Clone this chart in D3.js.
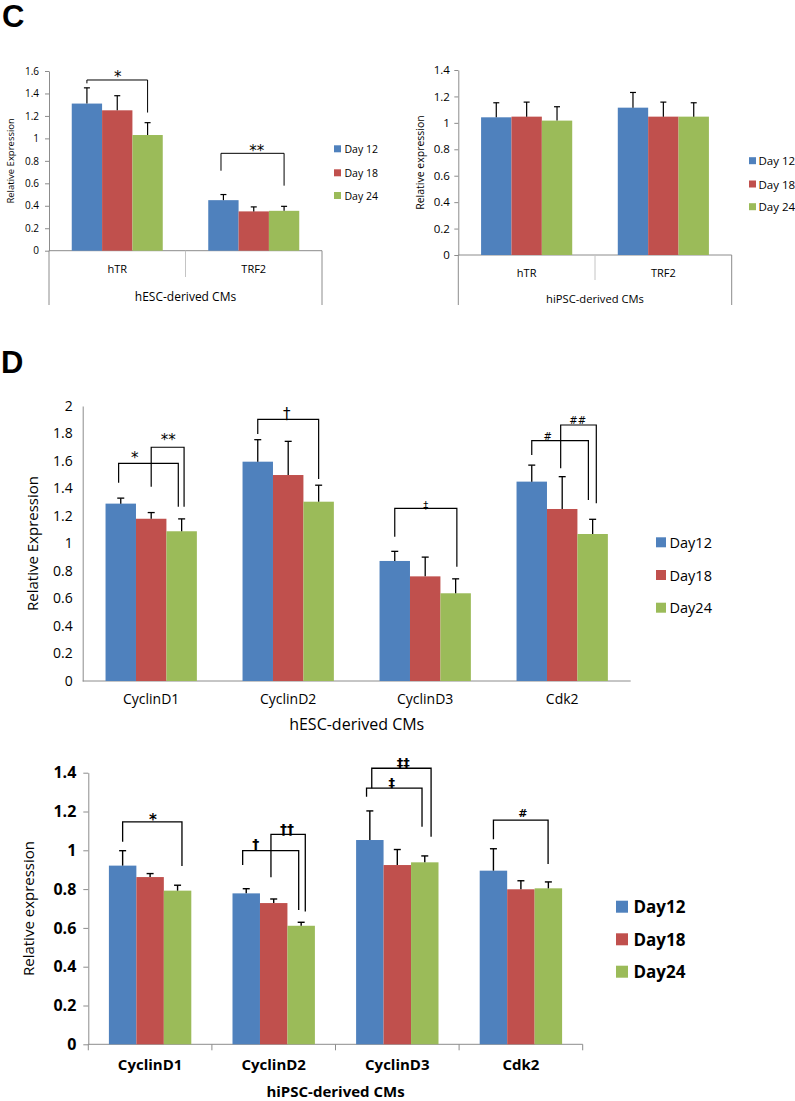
<!DOCTYPE html>
<html><head><meta charset="utf-8">
<script src="https://cdn.jsdelivr.net/npm/d3@7"></script>
<style>
body{margin:0;background:#fff}
svg{display:block}
text{font-family:"Open Sans","DejaVu Sans",sans-serif;fill:#000}
</style>
</head><body>
<svg id="chart" width="795" height="1101"></svg>
<script>
// ---------------- DATA ----------------
const seriesC = ["Day 12", "Day 18", "Day 24"];
const seriesD = ["Day12", "Day18", "Day24"];
const seriesColors = ["#4F81BD", "#C0504D", "#9BBB59"];

// Panel C (left): hESC-derived CMs
const cLeftCategories = ["hTR", "TRF2"];
const cLeftDay12 = [1.31, 0.45];
const cLeftDay12Err = [0.14, 0.05];
const cLeftDay18 = [1.25, 0.35];
const cLeftDay18Err = [0.13, 0.04];
const cLeftDay24 = [1.03, 0.355];
const cLeftDay24Err = [0.11, 0.04];
const cLeftTicks = [0, 0.2, 0.4, 0.6, 0.8, 1, 1.2, 1.4, 1.6];
const cLeftGroup = "hESC-derived CMs";
const cLeftYTitle = "Relative Expression";
const cLeftSig = [
  {cat: "hTR", x1: 0, x2: 2, yTop: 1.52, y1: 1.49, y2: 1.23, text: "*", tx: 1.02, ty: 1.58},
  {cat: "TRF2", x1: -0.08, x2: 2, yTop: 0.867, y1: 0.712, y2: 0.579, text: "**", tx: 1.1, ty: 0.92}
];

// Panel C (right): hiPSC-derived CMs
const cRightCategories = ["hTR", "TRF2"];
const cRightDay12 = [1.042, 1.115];
const cRightDay12Err = [0.11, 0.115];
const cRightDay18 = [1.047, 1.047];
const cRightDay18Err = [0.11, 0.11];
const cRightDay24 = [1.017, 1.047];
const cRightDay24Err = [0.105, 0.105];
const cRightTicks = [0, 0.2, 0.4, 0.6, 0.8, 1, 1.2, 1.4];
const cRightGroup = "hiPSC-derived CMs";
const cRightYTitle = "Relative expression";
const cRightSig = [];

// Panel D (top): hESC-derived CMs
const dTopCategories = ["CyclinD1", "CyclinD2", "CyclinD3", "Cdk2"];
const dTopDay12 = [1.29, 1.595, 0.873, 1.45];
const dTopDay12Err = [0.04, 0.16, 0.07, 0.12];
const dTopDay18 = [1.18, 1.498, 0.761, 1.251];
const dTopDay18Err = [0.045, 0.245, 0.14, 0.235];
const dTopDay24 = [1.089, 1.304, 0.638, 1.069];
const dTopDay24Err = [0.09, 0.12, 0.105, 0.107];
const dTopTicks = [0, 0.2, 0.4, 0.6, 0.8, 1, 1.2, 1.4, 1.6, 1.8, 2];
const dTopGroup = "hESC-derived CMs";
const dTopYTitle = "Relative Expression";
const dTopSig = [
  {cat: "CyclinD1", x1: -0.07, x2: 1.89, yTop: 1.583, y1: 1.442, y2: 1.268, text: "*", tx: 0.46, ty: 1.65, size: 15},
  {cat: "CyclinD1", x1: 1.0, x2: 2.08, yTop: 1.70, y1: 1.413, y2: 1.268, text: "**", tx: 1.56, ty: 1.775, size: 15},
  {cat: "CyclinD2", x1: 0, x2: 2, yTop: 1.903, y1: 1.796, y2: 1.469, text: "†", tx: 0.95, ty: 1.935, size: 15},
  {cat: "CyclinD3", x1: 0, x2: 2.04, yTop: 1.256, y1: 1.049, y2: 0.831, text: "‡", tx: 1.02, ty: 1.274, size: 10},
  {cat: "Cdk2", x1: 0, x2: 1.86, yTop: 1.748, y1: 1.644, y2: 1.316, text: "#", tx: 0.52, ty: 1.777, size: 10},
  {cat: "Cdk2", x1: 0.95, x2: 2.12, yTop: 1.862, y1: 1.547, y2: 1.292, text: "##", tx: 1.51, ty: 1.895, size: 10}
];

// Panel D (bottom): hiPSC-derived CMs
const dBotCategories = ["CyclinD1", "CyclinD2", "CyclinD3", "Cdk2"];
const dBotDay12 = [0.921, 0.778, 1.053, 0.895];
const dBotDay12Err = [0.077, 0.024, 0.15, 0.113];
const dBotDay18 = [0.862, 0.728, 0.924, 0.799];
const dBotDay18Err = [0.018, 0.021, 0.08, 0.044];
const dBotDay24 = [0.792, 0.611, 0.938, 0.804];
const dBotDay24Err = [0.028, 0.018, 0.033, 0.033];
const dBotTicks = [0, 0.2, 0.4, 0.6, 0.8, 1, 1.2, 1.4];
const dBotGroup = "hiPSC-derived CMs";
const dBotYTitle = "Relative expression";
const dBotSig = [
  {cat: "CyclinD1", x1: 0, x2: 2.16, yTop: 1.147, y1: 1.044, y2: 0.919, text: "*", tx: 1.1, ty: 1.175, size: 15},
  {cat: "CyclinD2", x1: -0.13, x2: 1.91, yTop: 0.998, y1: 0.924, y2: 0.692, text: "†", tx: 0.35, ty: 1.026, size: 14},
  {cat: "CyclinD2", x1: 0.9, x2: 2.15, yTop: 1.082, y1: 0.861, y2: 0.684, text: "††", tx: 1.48, ty: 1.105, size: 14},
  {cat: "CyclinD3", x1: -0.12, x2: 1.9, yTop: 1.32, y1: 1.276, y2: 1.122, text: "‡", tx: 0.8, ty: 1.344, size: 13},
  {cat: "CyclinD3", x1: 0.07, x2: 2.23, yTop: 1.423, y1: 1.32, y2: 1.07, text: "‡‡", tx: 1.22, ty: 1.447, size: 13},
  {cat: "Cdk2", x1: 0, x2: 1.99, yTop: 1.156, y1: 1.057, y2: 0.929, text: "#", tx: 1.07, ty: 1.192, size: 11}
];

// ---------------- DRAWING ----------------
const svg = d3.select("#chart");
const axisColor = "#8c8c8c";
const extColor = "#c4c4c4";

// glyph centre -> baseline offset (in em), DejaVu Sans metrics
function baseOffset(t) {
  const c = t[0];
  if (c === "*") return 0.57;
  if (c === "#") return 0.36;
  return 0.3;
}

function drawPanel(p) {
  const g = svg.append("g");
  const x = d3.scaleBand().domain(p.categories).range([p.x0, p.x1]);
  const inner = d3.scaleBand().domain(d3.range(p.series.length)).range([0, x.bandwidth()])
    .paddingInner(0).paddingOuter(0.75);
  const y = d3.scaleLinear().domain([0, p.yMax]).range([p.y0, p.yTop]);
  const bw = inner.bandwidth();
  const cx = (cat, s) => x(cat) + inner(0) + (s + 0.5) * bw;

  // y axis
  const ya = d3.axisLeft(y).tickValues(p.ticks).tickFormat(d => String(d))
    .tickSize(p.tickSize).tickSizeOuter(0).tickPadding(p.tickPad);
  const yg = g.append("g").attr("transform", `translate(${p.x0},0)`).call(ya);
  yg.select(".domain").attr("stroke", axisColor).attr("stroke-width", 1);
  yg.selectAll(".tick line").attr("stroke", axisColor);
  yg.selectAll(".tick text").attr("fill", "#000")
    .style("font-family", '"Open Sans", sans-serif')
    .style("font-size", p.tickFont + "px").style("font-weight", p.weight);

  // x axis line
  g.append("line").attr("x1", p.x0).attr("x2", p.x1).attr("y1", y(0)).attr("y2", y(0))
    .attr("stroke", axisColor).attr("stroke-width", 1);

  // category boundaries
  const bounds = p.categories.map(c => x(c)).concat([x(p.categories[p.categories.length - 1]) + x.bandwidth()]);
  if (p.ext) {
    bounds.forEach((b, i) => {
      const outer = (i === 0 || i === bounds.length - 1);
      g.append("line").attr("x1", b).attr("x2", b).attr("y1", y(0))
        .attr("y2", outer ? p.ext.outer : p.ext.mid)
        .attr("stroke", outer ? axisColor : extColor).attr("stroke-width", 1);
    });
  }
  if (p.xTicks) {
    bounds.forEach(b => {
      g.append("line").attr("x1", b).attr("x2", b).attr("y1", y(0)).attr("y2", y(0) + p.xTicks)
        .attr("stroke", axisColor).attr("stroke-width", 1);
    });
  }

  // bars
  p.series.forEach((name, s) => {
    g.append("g").selectAll("rect").data(p.categories).join("rect")
      .attr("x", c => x(c) + inner(s))
      .attr("y", (c, i) => y(p.values[s][i]))
      .attr("width", bw)
      .attr("height", (c, i) => y(0) - y(p.values[s][i]))
      .attr("fill", seriesColors[s]);
  });

  // error bars
  p.series.forEach((name, s) => {
    const eg = g.append("g").attr("stroke", "#000").attr("stroke-width", p.errW);
    p.categories.forEach((c, i) => {
      const v = p.values[s][i], e = p.errors[s][i];
      const xc = cx(c, s);
      eg.append("line").attr("x1", xc).attr("x2", xc).attr("y1", y(v)).attr("y2", y(v + e));
      eg.append("line").attr("x1", xc - p.cap).attr("x2", xc + p.cap).attr("y1", y(v + e)).attr("y2", y(v + e));
    });
  });

  // significance brackets
  p.sig.forEach(s => {
    const xa = cx(s.cat, 0) + s.x1 * bw, xb = cx(s.cat, 0) + s.x2 * bw;
    g.append("path")
      .attr("d", `M${xa},${y(s.y1)}V${y(s.yTop)}H${xb}V${y(s.y2)}`)
      .attr("fill", "none").attr("stroke", "#000").attr("stroke-width", p.sigW);
    const fs = s.size || p.sigFont;
    g.append("text").attr("x", cx(s.cat, 0) + s.tx * bw)
      .attr("y", y(s.ty) + baseOffset(s.text) * fs)
      .attr("text-anchor", "middle").attr("fill", "#000")
      .style("font-family", '"DejaVu Sans", sans-serif')
      .style("font-weight", p.sigWeight || "normal")
      .style("font-size", fs + "px").text(s.text);
  });

  // category labels
  g.append("g").selectAll("text").data(p.categories).join("text")
    .attr("x", c => x(c) + x.bandwidth() / 2).attr("y", p.catY)
    .attr("text-anchor", "middle").attr("dominant-baseline", "central")
    .style("font-size", p.catFont + "px").style("font-weight", p.weight).text(c => c);

  // group title
  g.append("text").attr("x", (p.x0 + p.x1) / 2).attr("y", p.groupY)
    .attr("text-anchor", "middle").attr("dominant-baseline", "central")
    .style("font-size", p.groupFont + "px").style("font-weight", p.weight).text(p.group);

  // y title
  g.append("text").attr("transform", `translate(${p.yTitleX},${(p.y0 + p.yTop) / 2}) rotate(-90)`)
    .attr("text-anchor", "middle").attr("dominant-baseline", "central")
    .style("font-size", p.yTitleFont + "px").text(p.yTitle);

  // legend
  const lg = g.append("g");
  p.series.forEach((name, s) => {
    const yc = p.legend.y[s];
    lg.append("rect").attr("x", p.legend.x).attr("y", yc - p.legend.sq / 2)
      .attr("width", p.legend.sq).attr("height", p.legend.sq).attr("fill", seriesColors[s]);
    lg.append("text").attr("x", p.legend.tx).attr("y", yc).attr("dominant-baseline", "central")
      .style("font-size", p.legend.font + "px").style("font-weight", p.weight).text(name);
  });
}

// Panel letters
svg.append("text").attr("x", 2).attr("y", 27).style("font-family", '"Liberation Sans", Arial, sans-serif')
  .style("font-size", "31px").style("font-weight", "bold").text("C");
svg.append("text").attr("x", 1).attr("y", 373).style("font-family", '"Liberation Sans", Arial, sans-serif')
  .style("font-size", "31px").style("font-weight", "bold").text("D");

drawPanel({
  categories: cLeftCategories, series: seriesC,
  values: [cLeftDay12, cLeftDay18, cLeftDay24], errors: [cLeftDay12Err, cLeftDay18Err, cLeftDay24Err],
  ticks: cLeftTicks, yMax: 1.6, x0: 49, x1: 322, y0: 250.7, yTop: 71,
  tickSize: 4, tickPad: 6, tickFont: 10, weight: "normal",
  ext: {outer: 305, mid: 277}, errW: 1.2, cap: 3, sig: cLeftSig, sigW: 1, sigFont: 15,
  catY: 268, catFont: 11, group: cLeftGroup, groupY: 296, groupFont: 12,
  yTitle: cLeftYTitle, yTitleX: 10, yTitleFont: 9.5,
  legend: {x: 334, sq: 7, tx: 344.5, y: [148.8, 172.8, 195.5], font: 10.5}
});

drawPanel({
  categories: cRightCategories, series: seriesC,
  values: [cRightDay12, cRightDay18, cRightDay24], errors: [cRightDay12Err, cRightDay18Err, cRightDay24Err],
  ticks: cRightTicks, yMax: 1.4, x0: 458.3, x1: 731.7, y0: 255, yTop: 70,
  tickSize: 4, tickPad: 4.5, tickFont: 11.5, weight: "normal",
  ext: {outer: 305, mid: 280}, errW: 1.2, cap: 3, sig: cRightSig, sigW: 1, sigFont: 15,
  catY: 272, catFont: 11, group: cRightGroup, groupY: 298, groupFont: 11.2,
  yTitle: cRightYTitle, yTitleX: 419.5, yTitleFont: 10.5,
  legend: {x: 749, sq: 7, tx: 758.5, y: [160.7, 184, 206.7], font: 11.5}
});

drawPanel({
  categories: dTopCategories, series: seriesD,
  values: [dTopDay12, dTopDay18, dTopDay24], errors: [dTopDay12Err, dTopDay18Err, dTopDay24Err],
  ticks: dTopTicks, yMax: 2, x0: 82.7, x1: 630.7, y0: 681, yTop: 406,
  tickSize: 0, tickPad: 10, tickFont: 14, weight: "normal",
  ext: null, xTicks: 0, errW: 1.3, cap: 3.5, sig: dTopSig, sigW: 1.2, sigFont: 15,
  catY: 698, catFont: 14, group: dTopGroup, groupY: 724, groupFont: 16,
  yTitle: dTopYTitle, yTitleX: 31.7, yTitleFont: 15,
  legend: {x: 656, sq: 10, tx: 669.5, y: [542.3, 575, 607.7], font: 14.5}
});

drawPanel({
  categories: dBotCategories, series: seriesD,
  values: [dBotDay12, dBotDay18, dBotDay24], errors: [dBotDay12Err, dBotDay18Err, dBotDay24Err],
  ticks: dBotTicks, yMax: 1.4, x0: 88.3, x1: 582.7, y0: 1044.3, yTop: 772.7,
  tickSize: 5, tickPad: 7, tickFont: 16, weight: "bold",
  ext: null, xTicks: 6, errW: 1.4, cap: 3.5, sig: dBotSig, sigW: 1.3, sigFont: 14, sigWeight: "bold",
  catY: 1064.3, catFont: 15, group: dBotGroup, groupY: 1090.5, groupFont: 15,
  yTitle: dBotYTitle, yTitleX: 28.3, yTitleFont: 15,
  legend: {x: 616, sq: 12, tx: 633.5, y: [906.7, 939.3, 971.7], font: 17}
});
</script>
</body></html>
